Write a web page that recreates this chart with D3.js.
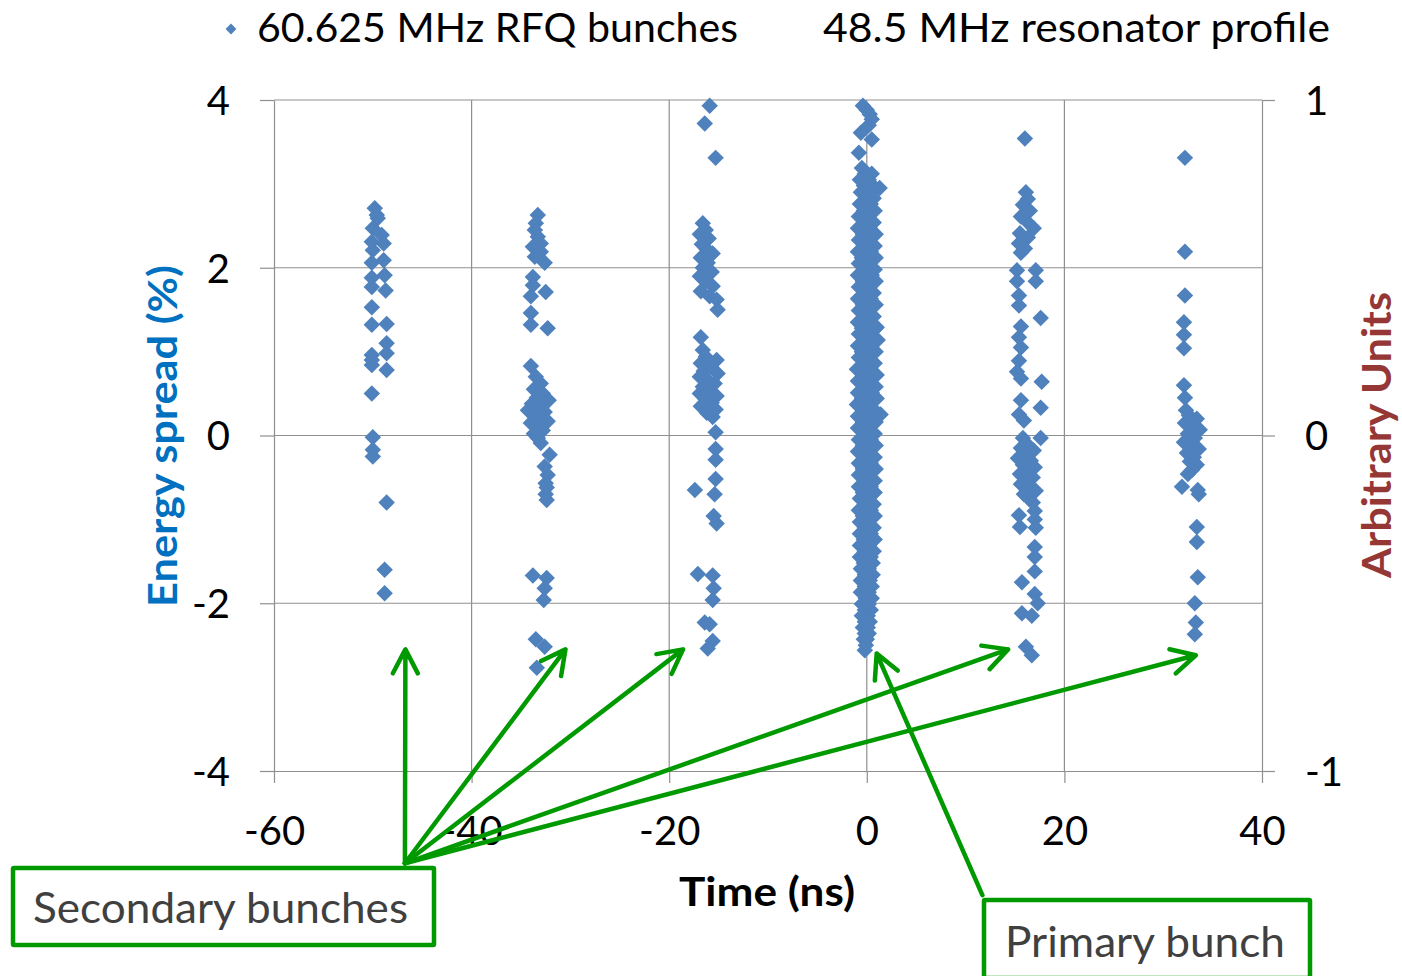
<!DOCTYPE html>
<html>
<head>
<meta charset="utf-8">
<script src="https://cdn.jsdelivr.net/npm/d3@7"></script>
<style>
  body { margin: 0; background: #fff; }
  svg { display: block; font-family: Lato, "Open Sans", sans-serif; }
</style>
</head>
<body>
<div id="chart"></div>
<script>
// ---- data: [time (ns), energy spread (%)], one array per bunch
const bunchM50 = [
  [-49.8, 2.71], [-49.6, 2.63], [-49.5, 2.59], [-50.0, 2.47], [-49.1, 2.39], [-50.1, 2.31],
  [-48.9, 2.29], [-50.0, 2.21], [-48.9, 2.09], [-50.1, 2.06], [-50.1, 1.88], [-48.8, 1.91],
  [-50.1, 1.77], [-48.7, 1.73], [-50.1, 1.53], [-50.1, 1.32], [-48.6, 1.33], [-48.6, 1.10],
  [-48.6, 0.98], [-50.1, 0.96], [-50.1, 0.90], [-50.1, 0.84], [-48.6, 0.78], [-50.1, 0.50],
  [-50.0, -0.02], [-50.0, -0.17], [-50.0, -0.25], [-48.6, -0.80], [-48.8, -1.60], [-48.8, -1.88]
];
const bunchM33 = [
  [-33.3, 2.63], [-33.5, 2.53], [-33.6, 2.45], [-33.3, 2.37], [-33.0, 2.29], [-33.8, 2.25],
  [-33.0, 2.19], [-33.6, 2.13], [-32.6, 2.06], [-33.8, 1.89], [-33.8, 1.79], [-32.5, 1.71],
  [-34.0, 1.66], [-34.0, 1.46], [-34.0, 1.32], [-32.3, 1.28], [-34.0, 0.83],
  [-33.5, 0.70], [-33.0, 0.62], [-33.7, 0.55], [-32.8, 0.50], [-33.4, 0.45], [-32.2, 0.42],
  [-33.9, 0.38], [-33.0, 0.35], [-34.3, 0.30], [-32.6, 0.28], [-33.6, 0.24], [-33.1, 0.20],
  [-32.3, 0.17], [-34.0, 0.15], [-33.4, 0.10], [-32.8, 0.06], [-33.7, 0.02], [-33.3, -0.03],
  [-33.0, -0.09], [-32.1, -0.23], [-32.6, -0.37], [-32.3, -0.47], [-32.5, -0.57], [-32.4, -0.62],
  [-32.5, -0.70], [-32.4, -0.77], [-33.8, -1.67], [-32.4, -1.70], [-32.6, -1.82], [-32.7, -1.96],
  [-33.5, -2.43], [-32.6, -2.52], [-33.4, -2.77]
];
const bunchM17 = [
  [-15.9, 3.93], [-16.4, 3.72], [-15.3, 3.31],
  [-16.6, 2.53], [-16.3, 2.45], [-16.9, 2.40], [-16.0, 2.35], [-16.7, 2.28], [-16.2, 2.22],
  [-15.6, 2.17], [-16.8, 2.12], [-16.1, 2.06], [-16.6, 2.00], [-15.7, 1.95], [-16.9, 1.90],
  [-16.3, 1.84], [-15.6, 1.78], [-16.8, 1.72], [-15.9, 1.66], [-15.2, 1.62], [-15.1, 1.50],
  [-16.8, 1.17], [-16.6, 1.02],
  [-16.3, 0.94], [-15.2, 0.90], [-16.8, 0.86], [-15.8, 0.82], [-16.5, 0.77], [-15.1, 0.74],
  [-16.9, 0.70], [-16.1, 0.66], [-15.4, 0.62], [-16.6, 0.58], [-15.9, 0.54], [-16.9, 0.50],
  [-15.2, 0.47], [-16.3, 0.43], [-15.7, 0.39], [-16.8, 0.35], [-15.3, 0.31], [-16.2, 0.27],
  [-15.6, 0.22], [-15.3, 0.04], [-15.3, -0.16], [-15.3, -0.29], [-15.3, -0.52], [-17.4, -0.65],
  [-15.4, -0.70], [-15.5, -0.96], [-15.2, -1.05], [-17.1, -1.65], [-15.6, -1.67], [-15.5, -1.82],
  [-15.6, -1.96], [-16.4, -2.23], [-15.9, -2.25], [-15.6, -2.45], [-16.1, -2.54]
];
const bunch0 = [
  [-0.4, 3.93], [0.0, 3.88], [0.3, 3.83], [0.5, 3.77], [0.2, 3.70], [-0.6, 3.61], [0.5, 3.53], [-0.8, 3.37],
  [-0.5, 3.19], [-0.2, 3.12], [0.5, 3.12], [-0.7, 3.05], [0.2, 3.05], [-0.3, 2.98], [0.6, 2.98],
  [1.3, 2.95], [-0.6, 2.90], [0.3, 2.90], [-0.1, 2.83], [0.7, 2.83], [-0.7, 2.76], [0.4, 2.76],
  [-0.3, 2.68], [0.8, 2.68], [-0.8, 2.61], [0.1, 2.61], [-0.2, 2.54], [0.7, 2.54], [-0.9, 2.47],
  [0.3, 2.47], [-0.4, 2.40], [0.9, 2.40], [-0.8, 2.33], [0.1, 2.33], [-0.2, 2.26], [0.8, 2.26],
  [-0.9, 2.19], [0.4, 2.19], [-0.5, 2.12], [0.9, 2.12], [-0.8, 2.05], [0.2, 2.05], [-0.1, 1.98],
  [0.8, 1.98], [-0.9, 1.91], [0.5, 1.91], [-0.4, 1.84], [0.9, 1.84], [-0.8, 1.77], [0.2, 1.77],
  [-0.2, 1.70], [0.7, 1.70], [-0.9, 1.63], [0.4, 1.63], [-0.4, 1.56], [0.9, 1.56], [-0.8, 1.49],
  [0.1, 1.49], [-0.2, 1.42], [0.7, 1.42], [-0.9, 1.35], [0.4, 1.35], [1.0, 1.29], [-0.5, 1.28],
  [0.9, 1.28], [-0.8, 1.21], [0.2, 1.21], [1.1, 1.14], [-0.2, 1.14], [0.6, 1.14], [-0.9, 1.07],
  [0.4, 1.07], [-0.5, 1.00], [0.9, 1.00], [-0.8, 0.93], [0.1, 0.93], [-0.3, 0.86], [0.8, 0.86],
  [-1.0, 0.79], [0.3, 0.79], [-0.4, 0.72], [1.0, 0.72], [-0.9, 0.65], [0.2, 0.65], [-0.2, 0.58],
  [0.9, 0.58], [-0.9, 0.51], [0.5, 0.51], [-0.5, 0.44], [1.0, 0.44], [-1.0, 0.37], [0.1, 0.37],
  [-0.2, 0.30], [0.8, 0.30], [1.4, 0.25], [-0.9, 0.23], [0.4, 0.23], [-0.4, 0.16], [0.9, 0.16],
  [-0.9, 0.09], [0.2, 0.09], [-0.2, 0.02], [0.8, 0.02], [-0.8, -0.05], [0.4, -0.05], [-0.4, -0.12],
  [0.9, -0.12], [-0.9, -0.19], [0.1, -0.19], [-0.2, -0.26], [0.8, -0.26], [-0.8, -0.33], [0.4, -0.33],
  [-0.4, -0.40], [0.9, -0.40], [-0.8, -0.47], [0.1, -0.47], [-0.2, -0.54], [0.8, -0.54], [-0.8, -0.61],
  [0.4, -0.61], [-0.4, -0.68], [0.8, -0.68], [-0.7, -0.75], [0.1, -0.75], [-0.2, -0.82], [0.7, -0.82],
  [-0.8, -0.89], [0.4, -0.89], [-0.4, -0.96], [0.8, -0.96], [-0.7, -1.03], [0.1, -1.03], [-0.2, -1.10],
  [0.7, -1.10], [-0.7, -1.17], [0.4, -1.17], [-0.3, -1.24], [0.8, -1.24], [-0.7, -1.31], [0.2, -1.31],
  [-0.2, -1.38], [0.7, -1.38], [-0.7, -1.45], [0.4, -1.45], [-0.3, -1.52], [0.6, -1.52], [-0.6, -1.59],
  [0.2, -1.59], [-0.2, -1.66], [0.6, -1.66], [-0.6, -1.73], [0.3, -1.73], [-0.2, -1.80], [0.5, -1.80],
  [-0.6, -1.87], [0.2, -1.87], [-0.1, -1.94], [0.5, -1.94], [-0.5, -2.01], [0.2, -2.01], [-0.2, -2.08],
  [0.4, -2.08], [-0.5, -2.15], [0.1, -2.15], [-0.2, -2.22], [0.3, -2.22], [-0.4, -2.29], [0.1, -2.29],
  [-0.2, -2.36], [0.2, -2.36], [-0.3, -2.43], [0.0, -2.43], [-0.1, -2.50], [-0.2, -2.56]
];
const bunch16 = [
  [16.0, 3.54], [16.1, 2.90], [16.3, 2.82], [15.8, 2.75], [16.5, 2.68], [15.6, 2.61], [16.2, 2.55],
  [16.9, 2.47], [15.5, 2.41], [16.3, 2.36], [15.4, 2.29], [16.0, 2.23], [15.6, 2.18],
  [15.2, 1.97], [17.1, 1.97], [15.2, 1.84], [17.1, 1.84], [15.4, 1.67], [15.4, 1.55], [17.6, 1.40],
  [15.6, 1.30], [15.4, 1.17], [15.6, 1.05], [15.4, 0.89], [15.2, 0.76], [15.6, 0.68], [17.7, 0.64],
  [15.6, 0.42], [17.6, 0.33], [15.4, 0.25], [15.9, 0.18], [15.8, -0.03], [17.6, -0.03],
  [16.2, -0.10], [15.6, -0.15], [16.9, -0.18], [16.0, -0.23], [15.3, -0.27], [16.6, -0.30],
  [15.8, -0.35], [17.0, -0.38], [16.3, -0.42], [15.5, -0.46], [16.8, -0.50], [16.0, -0.54],
  [15.6, -0.58], [16.5, -0.62], [17.1, -0.66], [15.9, -0.70], [16.4, -0.75], [16.8, -0.80],
  [15.4, -0.95], [15.5, -1.09], [17.0, -0.90], [17.0, -1.00], [17.1, -1.10], [17.0, -1.33],
  [17.0, -1.45], [17.0, -1.62], [15.7, -1.75], [17.0, -1.89], [17.3, -2.00], [15.7, -2.12],
  [16.7, -2.15], [16.1, -2.52], [16.7, -2.62]
];
const bunch33 = [
  [32.2, 3.31], [32.2, 2.19], [32.2, 1.67], [32.1, 1.35], [32.1, 1.20], [32.1, 1.04], [32.1, 0.60],
  [32.2, 0.45], [32.3, 0.30], [32.6, 0.24], [33.4, 0.20], [32.2, 0.15], [33.0, 0.11], [33.7, 0.07],
  [32.5, 0.02], [33.2, -0.03], [32.1, -0.08], [32.9, -0.12], [33.6, -0.16], [32.4, -0.21],
  [33.1, -0.26], [32.7, -0.31], [33.4, -0.35], [32.9, -0.41], [32.5, -0.46], [31.9, -0.61],
  [33.5, -0.65], [33.6, -0.70], [33.4, -1.09], [33.4, -1.27], [33.5, -1.69], [33.2, -2.00],
  [33.3, -2.23], [33.2, -2.37]
];

const xTicks = [-60, -40, -20, 0, 20, 40];
const yTicks = [-4, -2, 0, 2, 4];
const y2Ticks = [-1, 0, 1];
const legendLabels = ["60.625 MHz RFQ bunches", "48.5 MHz resonator profile"];

// annotation arrows, in data units
const secondaryFrom = [-46.75, -5.1];
const secondaryTips = [[-46.7, -2.55], [-30.5, -2.55], [-18.6, -2.55], [14.3, -2.55], [33.3, -2.62]];
const primaryFrom = [11.7, -5.48];
const primaryTip = [1.0, -2.6];

const points = [].concat(bunchM50, bunchM33, bunchM17, bunch0, bunch16, bunch33);

// ---- layout
const W = 1402, H = 976;
const svg = d3.select("#chart").append("svg")
    .attr("width", W)
    .attr("height", H);

const x = d3.scaleLinear().domain([-60, 40]).range([274, 1262]);
const y = d3.scaleLinear().domain([-4, 4]).range([771, 100]);
const y2 = d3.scaleLinear().domain([-1, 1]).range([771, 100]);

const gridCol = "#8f8f8f";

// gridlines
svg.append("g").selectAll("line")
  .data(yTicks.filter(d => d !== -4))
  .join("line")
    .attr("x1", x(-60)).attr("x2", x(40))
    .attr("y1", d => y(d)).attr("y2", d => y(d))
    .attr("stroke", gridCol).attr("stroke-width", 1.2);

svg.append("g").selectAll("line")
  .data(xTicks.filter(d => d !== -60 && d !== 40))
  .join("line")
    .attr("x1", d => x(d)).attr("x2", d => x(d))
    .attr("y1", y(4)).attr("y2", y(-4))
    .attr("stroke", gridCol).attr("stroke-width", 1.2);

function styleAxis(g) {
  g.selectAll("path, line").attr("stroke", gridCol).attr("stroke-width", 1.2);
  g.selectAll("text").attr("fill", "#000").style("font-size", "40px")
    .style("font-family", "Lato, 'Open Sans', sans-serif");
}

// left axis
svg.append("g")
    .attr("transform", `translate(${x(-60)},0)`)
    .call(d3.axisLeft(y).tickValues(yTicks).tickSize(14).tickSizeOuter(0)
      .tickPadding(30).tickFormat(d => String(d)))
    .call(styleAxis)
    .call(g => g.selectAll("text").attr("dy", "0.36em"));

// right axis
svg.append("g")
    .attr("transform", `translate(${x(40)},0)`)
    .call(d3.axisRight(y2).tickValues(y2Ticks).tickSize(13).tickSizeOuter(0)
      .tickPadding(30).tickFormat(d => String(d)))
    .call(styleAxis)
    .call(g => g.selectAll("text").attr("dy", "0.36em"));

// bottom axis
svg.append("g")
    .attr("transform", `translate(0,${y(-4)})`)
    .call(d3.axisBottom(x).tickValues(xTicks).tickSize(12).tickSizeOuter(0)
      .tickPadding(44).tickFormat(d => String(d)))
    .call(styleAxis)
    .call(g => g.selectAll("text").attr("dy", "0.45em"));

// points
const diamond = d3.symbol(d3.symbolSquare, 136);
svg.append("g").selectAll("path")
  .data(points)
  .join("path")
    .attr("d", diamond)
    .attr("transform", d => `translate(${x(d[0])},${y(d[1])}) rotate(45)`)
    .attr("fill", "#4f81bd");

// legend
svg.append("path")
    .attr("d", d3.symbol(d3.symbolSquare, 58))
    .attr("transform", "translate(231,29) rotate(45)")
    .attr("fill", "#4f81bd");
svg.append("text").attr("x", 257).attr("y", 42)
    .attr("textLength", 481).attr("lengthAdjust", "spacingAndGlyphs")
    .style("font-size", "41px").text(legendLabels[0]);
svg.append("text").attr("x", 823).attr("y", 42)
    .attr("textLength", 507).attr("lengthAdjust", "spacingAndGlyphs")
    .style("font-size", "41px").text(legendLabels[1]);

// axis titles
svg.append("text").attr("x", 767).attr("y", 906)
    .attr("text-anchor", "middle").attr("textLength", 176).attr("lengthAdjust", "spacingAndGlyphs")
    .style("font-size", "41px").style("font-weight", "bold").text("Time (ns)");
svg.append("text")
    .attr("transform", "translate(177,436) rotate(-90)")
    .attr("text-anchor", "middle").attr("textLength", 342).attr("lengthAdjust", "spacingAndGlyphs")
    .attr("fill", "#0070c0")
    .style("font-size", "41px").style("font-weight", "bold").text("Energy spread (%)");
svg.append("text")
    .attr("transform", "translate(1391,435) rotate(-90)")
    .attr("text-anchor", "middle").attr("textLength", 286).attr("lengthAdjust", "spacingAndGlyphs")
    .attr("fill", "#953735")
    .style("font-size", "41px").style("font-weight", "bold").text("Arbitrary Units");

// annotation arrows
const green = "#009a00";
function arrowPath(p0, p1) {
  const x1 = x(p0[0]), y1 = y(p0[1]), x2 = x(p1[0]), y2v = y(p1[1]);
  const a = Math.atan2(y2v - y1, x2 - x1), L = 27, w = 0.48;
  return `M${x1},${y1}L${x2},${y2v}` +
    `M${x2 - L * Math.cos(a - w)},${y2v - L * Math.sin(a - w)}L${x2},${y2v}` +
    `L${x2 - L * Math.cos(a + w)},${y2v - L * Math.sin(a + w)}`;
}
svg.append("g").selectAll("path")
  .data(secondaryTips.map(t => [secondaryFrom, t]).concat([[primaryFrom, primaryTip]]))
  .join("path")
    .attr("d", d => arrowPath(d[0], d[1]))
    .attr("fill", "none").attr("stroke", green).attr("stroke-width", 4.5)
    .attr("stroke-linecap", "round").attr("stroke-linejoin", "round");

// annotation boxes
svg.append("rect").attr("x", 13).attr("y", 868).attr("width", 421).attr("height", 77)
    .attr("fill", "#fff").attr("stroke", green).attr("stroke-width", 4.5).attr("rx", 1);
svg.append("text").attr("x", 33).attr("y", 923)
    .attr("textLength", 375).attr("lengthAdjust", "spacingAndGlyphs")
    .attr("fill", "#404040").style("font-size", "43px").text("Secondary bunches");

svg.append("rect").attr("x", 984).attr("y", 900).attr("width", 326).attr("height", 78)
    .attr("fill", "#fff").attr("stroke", green).attr("stroke-width", 4.5).attr("rx", 1);
svg.append("text").attr("x", 1005).attr("y", 957)
    .attr("textLength", 280).attr("lengthAdjust", "spacingAndGlyphs")
    .attr("fill", "#404040").style("font-size", "43px").text("Primary bunch");
</script>
</body>
</html>
